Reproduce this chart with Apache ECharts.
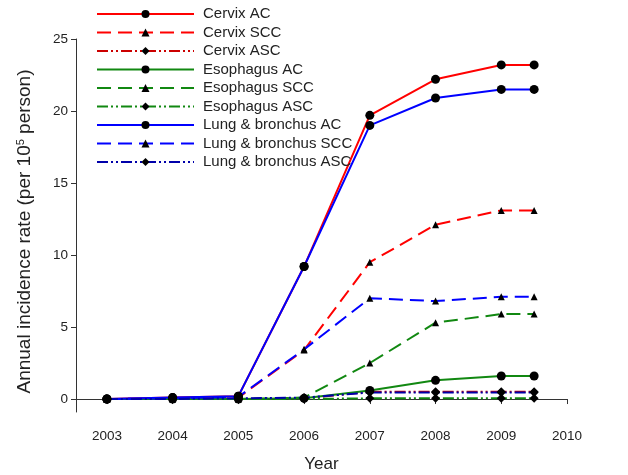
<!DOCTYPE html>
<html><head><meta charset="utf-8">
<script src="https://cdn.jsdelivr.net/npm/echarts@6/dist/echarts.min.js"></script>
<style>html,body{margin:0;padding:0;background:#fff}#c{width:628px;height:475px}</style>
</head><body><div id="c"></div>
<script>
var years = [2003, 2004, 2005, 2006, 2007, 2008, 2009, 2009.5];
var xTicks = [2003, 2004, 2005, 2006, 2007, 2008, 2009, 2010];
var yTicks = [0, 5, 10, 15, 20, 25];
var seriesNames = ['Cervix AC','Cervix SCC','Cervix ASC','Esophagus AC','Esophagus SCC','Esophagus ASC','Lung & bronchus AC','Lung & bronchus SCC','Lung & bronchus ASC'];
var cervixAC  = [0, 0.1, 0.2, 9.2, 19.7, 22.2, 23.2, 23.2];
var cervixSCC = [0, 0.05, 0.1, 3.4, 9.5, 12.1, 13.1, 13.1];
var cervixASC = [0, 0, 0, 0.05, 0.5, 0.5, 0.5, 0.5];
var esoAC     = [0, 0, 0, 0.05, 0.6, 1.3, 1.6, 1.6];
var esoSCC    = [0, 0, 0, 0.1, 2.5, 5.3, 5.9, 5.9];
var esoASC    = [0, 0, 0, 0, 0.05, 0.05, 0.05, 0.05];
var lungAC    = [0, 0.1, 0.2, 9.2, 19.0, 20.9, 21.5, 21.5];
var lungSCC   = [0, 0.05, 0.15, 3.45, 7.0, 6.8, 7.1, 7.1];
var lungASC   = [0, 0, 0.05, 0.1, 0.45, 0.45, 0.45, 0.45];

var values = [cervixAC, cervixSCC, cervixASC, esoAC, esoSCC, esoASC, lungAC, lungSCC, lungASC];
var colors = ['#ff0000','#ff0000','#cc0000','#118811','#118811','#118811','#0000ff','#0000ff','#0000aa'];
var dashes = ['solid', [14,7], [11,3,2,3,2,3]];
var symbols = ['circle','triangle','diamond'];
var symSizes = [9, 7, 9];

function pairs(v){ return years.map(function(y,i){ return [y, v[i]]; }); }

var series = values.map(function(v, i){
  var k = i % 3;
  return {
    name: seriesNames[i], type: 'line', data: pairs(v),
    symbol: symbols[k], symbolSize: symSizes[k],
    itemStyle: {color: '#000'},
    lineStyle: {color: colors[i], width: 2, type: dashes[k]},
    emphasis: {disabled: true}, animation: false
  };
});

var chart = echarts.init(document.getElementById('c'));
chart.setOption({
  backgroundColor: '#fff',
  textStyle: {fontFamily: 'Liberation Sans, Arial, sans-serif'},
  grid: {left: 76, right: 61, top: 39, bottom: 63, outerBoundsMode: 'none', containLabel: false},
  legend: {
    orient: 'vertical', left: 96, top: 6.5, padding: 0,
    itemWidth: 97, itemHeight: 10, itemGap: 3.5,
    textStyle: {fontSize: 15, lineHeight: 15, color: '#222', padding: [0,0,0,4]},
    data: seriesNames
  },
  xAxis: {
    type: 'value', min: 2002.53, max: 2010,
    name: 'Year', nameLocation: 'middle', nameGap: 44,
    nameTextStyle: {fontSize: 17, color: '#222'},
    axisLine: {show: true, lineStyle: {color: '#333', width: 1}},
    axisTick: {show: true, length: 5, customValues: xTicks, lineStyle: {color: '#333'}},
    axisLabel: {customValues: xTicks, fontSize: 13.5, color: '#222', margin: 17, formatter: function(v){return String(v);}},
    splitLine: {show: false}
  },
  yAxis: {
    type: 'value', min: -0.9, max: 25,
    name: '{a|Annual incidence rate (per 10}{s|5}{a| person)}', nameLocation: 'middle', nameGap: 41.5,
    nameTextStyle: {padding: [0, 12, 0, 0], rich: {a: {fontSize: 19, color: '#222'}, s: {fontSize: 11, color: '#222', verticalAlign: 'top', padding:[0,0,8,0]}}},
    axisLine: {show: true, lineStyle: {color: '#333', width: 1}},
    axisTick: {show: true, length: 5, customValues: yTicks, lineStyle: {color: '#333'}},
    axisLabel: {customValues: yTicks, fontSize: 13.5, color: '#222', margin: 8},
    splitLine: {show: false}
  },
  series: series
});
</script></body></html>
